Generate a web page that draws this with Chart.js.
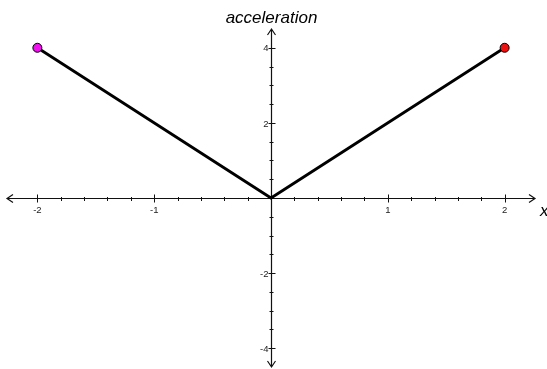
<!DOCTYPE html>
<html>
<head>
<meta charset="utf-8">
<script src="https://cdn.jsdelivr.net/npm/chart.js@4/dist/chart.umd.min.js"></script>
<style>
  html, body { margin: 0; padding: 0; background: #fff; overflow: hidden; }
  canvas { display: block; }
</style>
</head>
<body>
<canvas id="chart" width="547" height="369"></canvas>
<script>
// a(x) = 2|x| sampled at the kinks and ends
const xValues = [-2, 0, 2];
const accel = [4, 0, 4];
const pointColors = ['#ee11ee', '#000000', '#ee1111'];
const pointSizes = [4.5, 0, 4.5];

const xLabels = [-2, -1, 1, 2];
const yLabels = [-4, -2, 2, 4];
const xMinorStep = 0.2;
const yMinorStep = 0.5;

const FONT = '"Liberation Sans", Arial, sans-serif';

function range(from, to, step) {
    const out = [];
    const n = Math.round((to - from) / step);
    for (let i = 0; i <= n; i++) out.push(+(from + i * step).toFixed(4));
    return out;
}

// axes crossing at the origin, with arrowheads and tick marks on both sides
const originAxes = {
    id: 'originAxes',
    beforeDatasetsDraw(chart) {
        const { ctx, chartArea: a, scales: { x, y } } = chart;
        const ox = Math.round(x.getPixelForValue(0)) + 0.5;
        const oy = Math.round(y.getPixelForValue(0)) + 0.5;
        ctx.save();
        ctx.strokeStyle = '#111';
        ctx.fillStyle = '#111';
        ctx.lineWidth = 1.2;

        ctx.beginPath();
        ctx.moveTo(a.left, oy); ctx.lineTo(a.right, oy);
        ctx.moveTo(ox, a.top); ctx.lineTo(ox, a.bottom);
        // arrowheads
        ctx.moveTo(a.left + 6, oy - 4); ctx.lineTo(a.left, oy); ctx.lineTo(a.left + 6, oy + 4);
        ctx.moveTo(a.right - 6, oy - 4); ctx.lineTo(a.right, oy); ctx.lineTo(a.right - 6, oy + 4);
        ctx.moveTo(ox - 4, a.top + 6); ctx.lineTo(ox, a.top); ctx.lineTo(ox + 4, a.top + 6);
        ctx.moveTo(ox - 4, a.bottom - 6); ctx.lineTo(ox, a.bottom); ctx.lineTo(ox + 4, a.bottom - 6);
        ctx.stroke();

        ctx.lineWidth = 1;
        ctx.beginPath();
        range(-2, 2, xMinorStep).forEach(v => {
            if (v === 0) return;
            const px = Math.round(x.getPixelForValue(v)) + 0.5;
            const major = xLabels.includes(v);
            ctx.moveTo(px, oy - (major ? 4 : 1.5));
            ctx.lineTo(px, oy + (major ? 4 : 2.5));
        });
        range(-4, 4, yMinorStep).forEach(v => {
            if (v === 0) return;
            const py = Math.round(y.getPixelForValue(v)) + 0.5;
            const major = yLabels.includes(v);
            ctx.moveTo(ox - (major ? 3 : 2), py);
            ctx.lineTo(ox + (major ? 4 : 2), py);
        });
        ctx.stroke();

        ctx.font = '9.5px ' + FONT;
        ctx.fillStyle = '#222';
        ctx.textAlign = 'center';
        ctx.textBaseline = 'top';
        xLabels.forEach(v => ctx.fillText(String(v), x.getPixelForValue(v), oy + 7));
        ctx.textAlign = 'right';
        ctx.textBaseline = 'middle';
        yLabels.forEach(v => ctx.fillText(String(v), ox - 3, y.getPixelForValue(v) + 1));

        ctx.font = 'italic 17px ' + FONT;
        ctx.fillStyle = '#000';
        ctx.textAlign = 'center';
        ctx.textBaseline = 'alphabetic';
        ctx.fillText('acceleration', ox, 23);
        ctx.textAlign = 'left';
        ctx.fillText('x', a.right + 5, oy + 17);
        ctx.restore();
    }
};

new Chart(document.getElementById('chart'), {
    type: 'scatter',
    data: {
        datasets: [{
            data: xValues.map((v, i) => ({ x: v, y: accel[i] })),
            showLine: true,
            borderColor: '#000',
            borderWidth: 2.8,
            pointRadius: pointSizes,
            pointHoverRadius: pointSizes,
            pointBackgroundColor: pointColors,
            pointBorderColor: '#000',
            pointBorderWidth: 1,
            clip: false
        }]
    },
    options: {
        responsive: false,
        animation: false,
        events: [],
        layout: { autoPadding: false, padding: { left: 7, right: 12, top: 29, bottom: 2 } },
        scales: {
            x: { type: 'linear', min: -2.26, max: 2.26, display: false },
            y: { type: 'linear', min: -4.5, max: 4.5, display: false }
        },
        plugins: {
            legend: { display: false },
            tooltip: { enabled: false }
        }
    },
    plugins: [originAxes]
});
</script>
</body>
</html>
